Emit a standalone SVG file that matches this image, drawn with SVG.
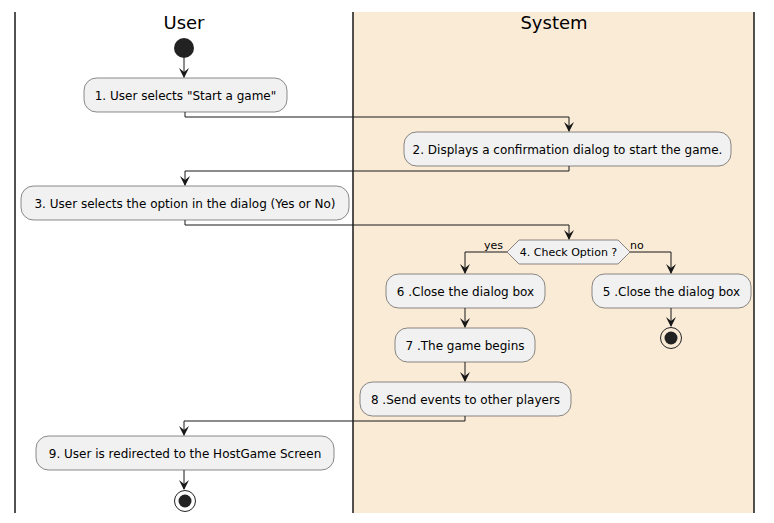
<svg xmlns="http://www.w3.org/2000/svg" width="774" height="523" viewBox="0 0 774 523">
<style>
.lane{stroke:#181818;stroke-width:1.5}
.box{fill:#F1F1F1;stroke:#181818;stroke-width:0.5}
.t{font-family:"DejaVu Sans",sans-serif;font-size:12px;fill:#000;text-anchor:middle}
.lbl{font-family:"DejaVu Sans",sans-serif;font-size:11px;fill:#000}
.title{font-family:"DejaVu Sans",sans-serif;font-size:18px;fill:#000;text-anchor:middle}
.c{fill:none;stroke:#181818;stroke-width:1}
.ah{fill:#181818}
</style>
<defs>
<path id="arr" d="M-5,-10 L0,0 L5,-10 L0,-6 Z" class="ah"/>
</defs>
<rect x="353" y="12" width="401" height="501" fill="#FAEBD7"/>
<g id="lanes">
<line class="lane" x1="15" y1="12" x2="15" y2="513"/>
<line class="lane" x1="353" y1="12" x2="353" y2="513"/>
<line class="lane" x1="754" y1="12" x2="754" y2="513"/>
<text class="title" x="184" y="29">User</text>
<text class="title" x="554" y="29">System</text>
</g>
<g id="connectors">
<line class="c" x1="184" y1="58" x2="184" y2="77"/>
<use href="#arr" x="184" y="78"/>
<polyline class="c" points="185,112 185,117 569,117 569,131"/>
<use href="#arr" x="569" y="132"/>
<polyline class="c" points="569,166 569,171 185,171 185,185"/>
<use href="#arr" x="185" y="186"/>
<polyline class="c" points="185,220 185,225 569,225 569,239"/>
<use href="#arr" x="569" y="240"/>
<polyline class="c" points="507,252 465,252 465,273"/>
<use href="#arr" x="465" y="274"/>
<polyline class="c" points="630,252 671,252 671,273"/>
<use href="#arr" x="671" y="274"/>
<line class="c" x1="671" y1="308" x2="671" y2="326"/>
<use href="#arr" x="671" y="327"/>
<line class="c" x1="465" y1="308" x2="465" y2="327"/>
<use href="#arr" x="465" y="328"/>
<line class="c" x1="465" y1="362" x2="465" y2="381"/>
<use href="#arr" x="465" y="382"/>
<polyline class="c" points="465,416 465,421 184,421 184,435"/>
<use href="#arr" x="184" y="436"/>
<line class="c" x1="184" y1="470" x2="184" y2="489"/>
<use href="#arr" x="184" y="490"/>
<text class="lbl" x="484" y="249">yes</text>
<text class="lbl" x="630" y="249">no</text>
</g>
<g id="start"><circle cx="184" cy="48" r="10" fill="#222222"/></g>
<g id="a1"><rect class="box" x="84" y="78" width="203" height="34" rx="12.5"/><text class="t" x="185.5" y="99.5">1. User selects "Start a game"</text></g>
<g id="a2"><rect class="box" x="404" y="132" width="327" height="34" rx="12.5"/><text class="t" x="567.5" y="153.5">2. Displays a confirmation dialog to start the game.</text></g>
<g id="a3"><rect class="box" x="21" y="186" width="328" height="34" rx="12.5"/><text class="t" x="185" y="207.5">3. User selects the option in the dialog (Yes or No)</text></g>
<g id="d4"><polygon class="box" points="507,252 519,240 618,240 630,252 618,264 519,264"/><text class="lbl" x="568.5" y="256" text-anchor="middle">4. Check Option ?</text></g>
<g id="a6"><rect class="box" x="386" y="274" width="159" height="34" rx="12.5"/><text class="t" x="465.5" y="295.5">6 .Close the dialog box</text></g>
<g id="a5"><rect class="box" x="592" y="274" width="159" height="34" rx="12.5"/><text class="t" x="671.5" y="295.5">5 .Close the dialog box</text></g>
<g id="end1"><circle cx="671" cy="338" r="10.5" fill="none" stroke="#222222" stroke-width="1"/><circle cx="671" cy="338" r="6.5" fill="#222222"/></g>
<g id="a7"><rect class="box" x="395" y="328" width="140" height="34" rx="12.5"/><text class="t" x="465" y="349.5">7 .The game begins</text></g>
<g id="a8"><rect class="box" x="360" y="382" width="211" height="34" rx="12.5"/><text class="t" x="465.5" y="403.5">8 .Send events to other players</text></g>
<g id="a9"><rect class="box" x="36" y="436" width="298" height="34" rx="12.5"/><text class="t" x="185" y="457.5">9. User is redirected to the HostGame Screen</text></g>
<g id="end2"><circle cx="185" cy="501" r="10.5" fill="none" stroke="#222222" stroke-width="1"/><circle cx="185" cy="501" r="6.5" fill="#222222"/></g>
</svg>
